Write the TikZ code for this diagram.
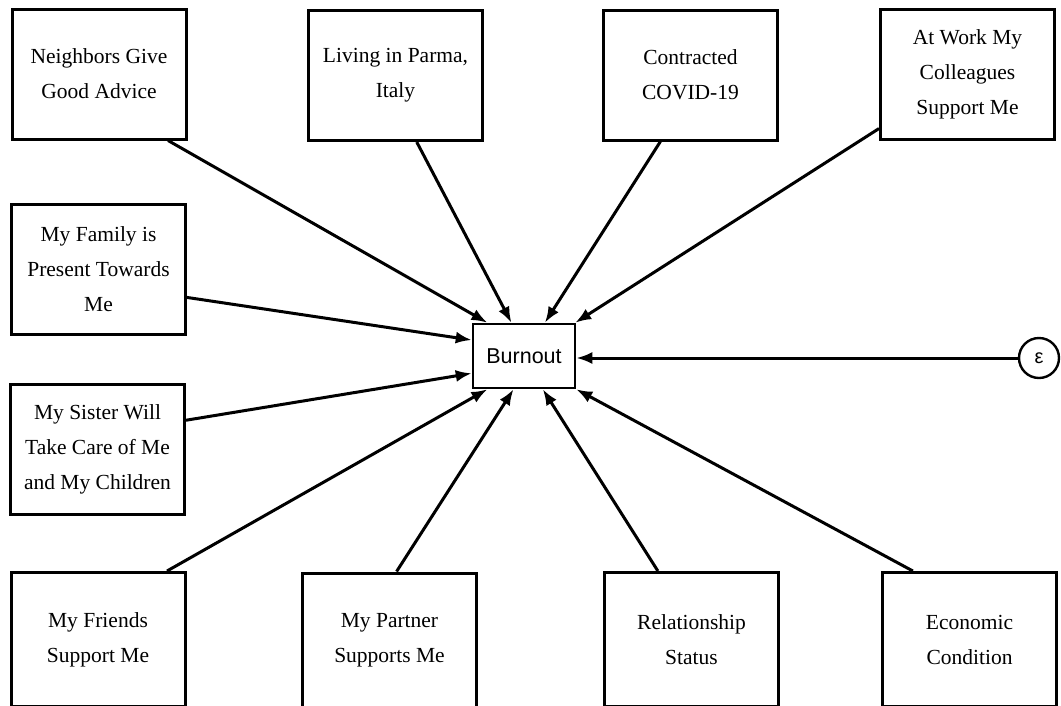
\documentclass[tikz,border=0pt]{standalone}
\usepackage{fontspec}
\setmainfont{Liberation Serif}
\setsansfont{Liberation Sans}
\usetikzlibrary{arrows.meta,calc}
\tikzset{
  varbox/.style={draw, line width=3pt, rectangle, minimum width=174pt, minimum height=130pt,
    inner sep=0pt, align=center, font=\fontsize{21.5}{35}\selectfont},
  lowbox/.style={varbox, minimum height=134pt},
  outbox/.style={draw, line width=2.5pt, rectangle, minimum width=102pt, minimum height=64pt,
    inner sep=0pt, font=\sffamily\fontsize{21.5}{26}\selectfont},
  errnode/.style={draw, line width=2.4pt, circle, minimum size=40pt, inner sep=0pt,
    font=\sffamily\fontsize{20}{22}\selectfont},
  conn/.style={line width=3pt, -{Latex[length=16pt,width=12pt]}}
}
\begin{document}
\begin{tikzpicture}[x=1pt,y=-1pt]
\useasboundingbox (0,0) rectangle (1061,705);
% nodes
\node[varbox] (nb)   at (99,74)    {Neighbors Give\\Good Advice};
\node[varbox] (liv)  at (395.5,75.5) {Living in Parma,\\Italy};
\node[varbox] (cov)  at (690.5,75) {Contracted\\COVID-19};
\node[varbox] (work) at (967.5,74) {At Work My\\Colleagues\\Support Me};
\node[varbox] (fam)  at (98.5,269.5) {My Family is\\Present Towards\\Me};
\node[varbox] (sis)  at (97.5,449.5) {My Sister Will\\Take Care of Me\\and My Children};
\node[lowbox] (fri)  at (98,639.5)  {My Friends\\Support Me};
\node[lowbox] (par)  at (389.5,640) {My Partner\\Supports Me};
\node[lowbox] (rel)  at (691.5,639.5) {Relationship\\Status};
\node[lowbox] (eco)  at (969.5,639.5) {Economic\\Condition};
\node[outbox] (burn) at (524,356) {Burnout};
\node[errnode] (eps) at (1039,358) {ε};
% connectors
\draw[conn] ($(nb.south west)!0.89!(nb.south east)$) -- ($(burn.north west)!0.15!(burn.north east)$);
\draw[conn] ($(liv.south west)!0.62!(liv.south east)$) -- ($(burn.north west)!0.38!(burn.north east)$);
\draw[conn] ($(cov.south west)!0.33!(cov.south east)$) -- ($(burn.north west)!0.70!(burn.north east)$);
\draw[conn] ($(work.north west)!0.91!(work.south west)$) -- ($(burn.north west)!0.99!(burn.north east)$);
\draw[conn] ($(fam.north east)!0.71!(fam.south east)$) -- ($(burn.north west)!0.26!(burn.south west)$);
\draw[conn] ($(sis.north east)!0.28!(sis.south east)$) -- ($(burn.north west)!0.76!(burn.south west)$);
\draw[conn] ($(fri.north west)!0.89!(fri.north east)$) -- ($(burn.south west)!0.15!(burn.south east)$);
\draw[conn] ($(par.north west)!0.54!(par.north east)$) -- ($(burn.south west)!0.40!(burn.south east)$);
\draw[conn] ($(rel.north west)!0.31!(rel.north east)$) -- ($(burn.south west)!0.68!(burn.south east)$);
\draw[conn] ($(eco.north west)!0.18!(eco.north east)$) -- ($(burn.south west)!1.0!(burn.south east)$);
\draw[conn] (eps.west) -- (eps.west -| burn.east);
\end{tikzpicture}
\end{document}
